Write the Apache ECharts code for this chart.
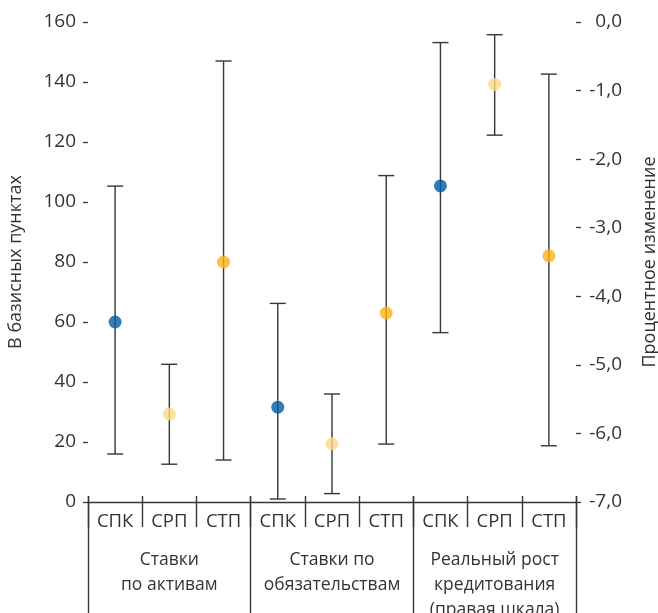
<!DOCTYPE html>
<html>
<head>
<meta charset="utf-8">
<script src="https://cdn.jsdelivr.net/npm/echarts@6/dist/echarts.min.js"></script>
<style>
html,body{margin:0;padding:0;background:#fff;}
#chart{width:658px;height:613px;}
</style>
</head>
<body>
<div id="chart"></div>
<script>
// ---- data ----
const categories = ['СПК','СРП','СТП','СПК','СРП','СТП','СПК','СРП','СТП'];
const groups = ['Ставки\nпо активам','Ставки по\nобязательствам','Реальный рост\nкредитования\n(правая шкала)'];
const pointValues = [60, 29.3, 80, 31.6, 19.4, 63, -2.39, -0.91, -3.41];
const lowValues   = [16, 12.6, 14, 1, 2.8, 19.3, -4.53, -1.65, -6.18];
const highValues  = [105.3, 45.9, 147, 66.2, 36, 108.8, -0.30, -0.185, -0.76];
const scaleIndex  = [0, 0, 0, 0, 0, 0, 1, 1, 1]; // 0 = left axis, 1 = right axis
const leftAxisTitle = 'В базисных пунктах';
const rightAxisTitle = 'Процентное изменение';

// ---- styles ----
const typeColors = {'СПК':'#005DA3','СРП':'#FDD98A','СТП':'#FBB317'};
const textColor = '#333333';
const lineColor = '#363636';
const fontFamily = '"Open Sans", sans-serif';

function errData(axis){
  const out = [];
  categories.forEach((c,i)=>{ if(scaleIndex[i]===axis) out.push([i, lowValues[i], highValues[i]]); });
  return out;
}
function pointData(axis){
  const out = [];
  categories.forEach((c,i)=>{ if(scaleIndex[i]===axis) out.push({value:[i, pointValues[i]], itemStyle:{color:typeColors[c]}}); });
  return out;
}
function renderErr(params, api){
  const x = api.value(0);
  const lo = api.coord([x, api.value(1)]);
  const hi = api.coord([x, api.value(2)]);
  const hw = 8;
  const st = {stroke: lineColor, lineWidth: 1.4};
  return {type:'group', children:[
    {type:'line', shape:{x1:lo[0], y1:lo[1], x2:hi[0], y2:hi[1]}, style:st},
    {type:'line', shape:{x1:lo[0]-hw, y1:lo[1], x2:lo[0]+hw, y2:lo[1]}, style:st},
    {type:'line', shape:{x1:hi[0]-hw, y1:hi[1], x2:hi[0]+hw, y2:hi[1]}, style:st}
  ]};
}
const noAxisParts = {axisLine:{show:false}, axisTick:{show:false}, axisLabel:{show:false}, splitLine:{show:false}};

const chart = echarts.init(document.getElementById('chart'), null, {renderer:'canvas'});
chart.setOption({
  animation:false,
  backgroundColor:'#fff',
  textStyle:{fontFamily:fontFamily},
  grid:[
    {left:88, right:82, top:22, bottom:111, containLabel:false, outerBoundsMode:'none'},
    {left:88, right:82, top:496, bottom:0, containLabel:false, outerBoundsMode:'none'},
    {left:88, right:82, top:496, height:31, containLabel:false, outerBoundsMode:'none'}
  ],
  xAxis:[
    {type:'category', gridIndex:0, data:categories, position:'bottom', boundaryGap:true,
     axisLine:{show:true, lineStyle:{color:lineColor, width:1.4}},
     axisTick:{show:false},
     axisLabel:{show:true, interval:0, color:textColor, fontSize:18.5, margin:10, fontFamily:fontFamily},
     splitLine:{show:false}},
    {type:'category', gridIndex:1, data:groups, position:'top', boundaryGap:true,
     axisLine:{show:false}, axisTick:{show:false},
     axisLabel:{show:true, inside:true, interval:0, color:textColor, fontSize:17.5, lineHeight:25, margin:52, fontFamily:fontFamily},
     splitLine:{show:true, interval:0, showMinLine:true, showMaxLine:true, lineStyle:{color:lineColor, width:1.4}}},
    {type:'category', gridIndex:2, data:categories, position:'top', boundaryGap:true,
     axisLine:{show:false}, axisTick:{show:false}, axisLabel:{show:false},
     splitLine:{show:true, interval:0, showMinLine:true, showMaxLine:true, lineStyle:{color:lineColor, width:1.4}}}
  ],
  yAxis:[
    {type:'value', gridIndex:0, position:'left', min:0, max:160, interval:20,
     name:leftAxisTitle, nameLocation:'middle', nameGap:63, nameRotate:90,
     nameTextStyle:{color:textColor, fontSize:18, fontFamily:fontFamily},
     axisLine:{show:false},
     axisTick:{show:true, length:5, lineStyle:{color:lineColor, width:1.3}},
     axisLabel:{color:textColor, fontSize:19, margin:12, fontFamily:fontFamily},
     splitLine:{show:false}},
    {type:'value', gridIndex:0, position:'right', min:-7, max:0, interval:1,
     name:rightAxisTitle, nameLocation:'middle', nameGap:65, nameRotate:90,
     nameTextStyle:{color:textColor, fontSize:18, fontFamily:fontFamily},
     axisLine:{show:false},
     axisTick:{show:true, length:5, lineStyle:{color:lineColor, width:1.3}},
     axisLabel:{color:textColor, fontSize:19, margin:46, align:'right', fontFamily:fontFamily,
       formatter:v=>v.toFixed(1).replace('.', ',')},
     splitLine:{show:false}},
    Object.assign({type:'value', gridIndex:1, min:0, max:1}, noAxisParts),
    Object.assign({type:'value', gridIndex:2, min:0, max:1}, noAxisParts)
  ],
  series:[
    {type:'custom', xAxisIndex:0, yAxisIndex:0, data:errData(0), renderItem:renderErr, z:2,
     encode:{x:0, y:[1,2]}},
    {type:'custom', xAxisIndex:0, yAxisIndex:1, data:errData(1), renderItem:renderErr, z:2,
     encode:{x:0, y:[1,2]}},
    {type:'scatter', xAxisIndex:0, yAxisIndex:0, data:pointData(0), symbolSize:13, z:5},
    {type:'scatter', xAxisIndex:0, yAxisIndex:1, data:pointData(1), symbolSize:13, z:5}
  ]
});
</script>
</body>
</html>
